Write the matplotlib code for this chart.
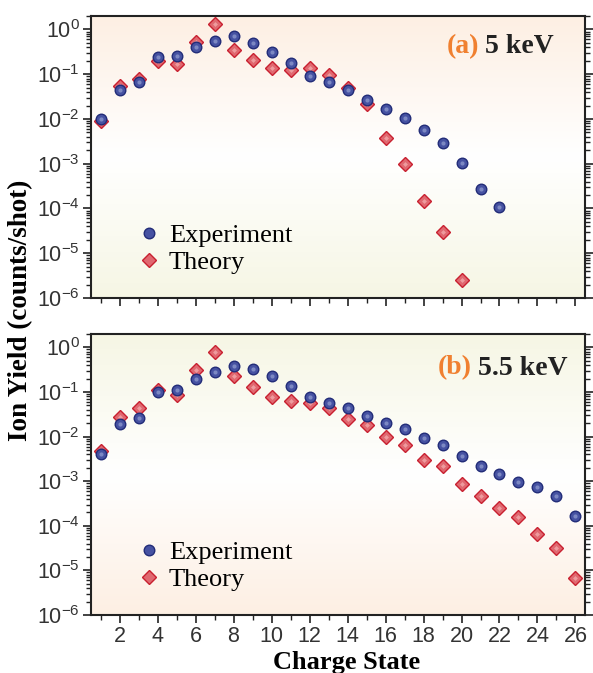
import numpy as np
import matplotlib.pyplot as plt
from matplotlib.colors import LinearSegmentedColormap

# charge states
q_a = np.arange(1, 23)
q_a_th = np.arange(1, 21)
q_b = np.arange(1, 27)

# (a) 5 keV
exp_a = [0.0102, 0.0456, 0.0665, 0.241, 0.262, 0.403, 0.558, 0.71, 0.512, 0.311,
         0.174, 0.0937, 0.0676, 0.0448, 0.0268, 0.0166, 0.0104, 0.00572, 0.00288,
         0.00106, 0.000274, 0.000110]
th_a = [0.00893, 0.056, 0.0789, 0.199, 0.168, 0.530, 1.36, 0.357, 0.206, 0.139,
        0.123, 0.137, 0.097, 0.0497, 0.0218, 0.00379, 0.000977, 0.000148, 2.94e-5,
        2.49e-6]

# (b) 5.5 keV
exp_b = [0.00406, 0.0194, 0.0265, 0.101, 0.112, 0.192, 0.285, 0.388, 0.321, 0.224,
         0.134, 0.0757, 0.0574, 0.0429, 0.0294, 0.0201, 0.0145, 0.00943, 0.00646,
         0.00372, 0.00222, 0.00142, 0.00094, 0.00075, 0.000456, 0.000163]
th_b = [0.00482, 0.0279, 0.0429, 0.110, 0.0853, 0.305, 0.786, 0.228, 0.131, 0.0783,
        0.0626, 0.0574, 0.0436, 0.0252, 0.0182, 0.00977, 0.00646, 0.00298, 0.00215,
        0.000863, 0.000472, 0.000245, 0.000157, 6.41e-5, 3.17e-5, 6.86e-6]

peach = (0.992, 0.937, 0.890)
green = (0.965, 0.965, 0.895)

plt.rcParams['font.family'] = 'Liberation Sans'
plt.rcParams['axes.linewidth'] = 1.5
plt.rcParams['axes.edgecolor'] = '#222222'

fig = plt.figure(figsize=(5.93, 6.73), dpi=100)
ax_a = fig.add_axes([0.1535, 0.5572, 0.833, 0.419])
ax_b = fig.add_axes([0.1535, 0.0862, 0.833, 0.4175])


def style(ax, top_col, bot_col, label, energy, x_lab, x_en, y_txt, show_xlabels):
    cmap = LinearSegmentedColormap.from_list('bg', [bot_col, (1, 1, 1), top_col])
    grad = np.linspace(0, 1, 256).reshape(-1, 1)
    ax.imshow(grad, cmap=cmap, origin='lower', aspect='auto',
              extent=[0, 1, 0, 1], transform=ax.transAxes, zorder=0)
    ax.set_yscale('log')
    ax.set_xlim(0.5, 26.5)
    ax.set_ylim(1e-6, 2.0)
    ax.set_yticks([1e0, 1e-1, 1e-2, 1e-3, 1e-4, 1e-5, 1e-6])
    ax.set_xticks(np.arange(2, 27, 2))
    ax.set_xticks(np.arange(1, 27, 2), minor=True)
    ax.tick_params(axis='both', which='major', direction='out', length=6, width=1.2,
                   labelsize=15.5, colors='#222222', labelcolor='#333333', pad=2)
    ax.tick_params(axis='both', which='minor', direction='out', length=3.5, width=1.0,
                   colors='#222222')
    ax.tick_params(axis='y', which='both', right=True)
    if not show_xlabels:
        ax.tick_params(axis='x', labelbottom=False)
    ax.text(x_lab, y_txt, label, transform=ax.transAxes, ha='left', va='center',
            fontsize=20, fontweight='bold', family='Liberation Serif', color='#f08030')
    ax.text(x_en, y_txt, energy, transform=ax.transAxes, ha='left', va='center',
            fontsize=20, fontweight='bold', family='Liberation Serif', color='#222222')


def points(ax, qe, ye, qt, yt):
    ax.plot(qt, yt, ls='none', marker='D', ms=6.8, mfc='#e06870', mec='#c82030',
            mew=1.0, label='Theory', zorder=3)
    ax.plot(qt, yt, ls='none', marker='D', ms=2.5, mfc='#f2a8aa', mec='none',
            alpha=0.8, zorder=3)
    ax.plot(qe, ye, ls='none', marker='o', ms=7.6, mfc='#4652a2', mec='#222c78',
            mew=1.0, label='Experiment', zorder=4)
    ax.plot(qe, ye, ls='none', marker='o', ms=3.0, mfc='#8a96cc', mec='none',
            alpha=0.8, zorder=4)
    h, l = ax.get_legend_handles_labels()
    ax.legend(h[::-1], l[::-1], loc='lower left', bbox_to_anchor=(0.043, 0.0),
              frameon=False, handletextpad=0.25, handlelength=1.0, labelspacing=0.15,
              prop={'family': 'Liberation Serif', 'size': 19})


style(ax_a, peach, green, '(a)', '5 keV', 0.72, 0.798, 0.893, False)
points(ax_a, q_a, exp_a, q_a_th, th_a)
style(ax_b, green, peach, '(b)', '5.5 keV', 0.702, 0.783, 0.879, True)
points(ax_b, q_b, exp_b, q_b, th_b)

fig.text(0.585, 0.016, 'Charge State', ha='center', va='center',
         family='Liberation Serif', fontweight='bold', fontsize=19)
fig.text(0.034, 0.539, 'Ion Yield (counts/shot)', rotation=90, ha='center',
         va='center', family='Liberation Serif', fontweight='bold', fontsize=19.5)

fig.savefig('out.png', dpi=100)
